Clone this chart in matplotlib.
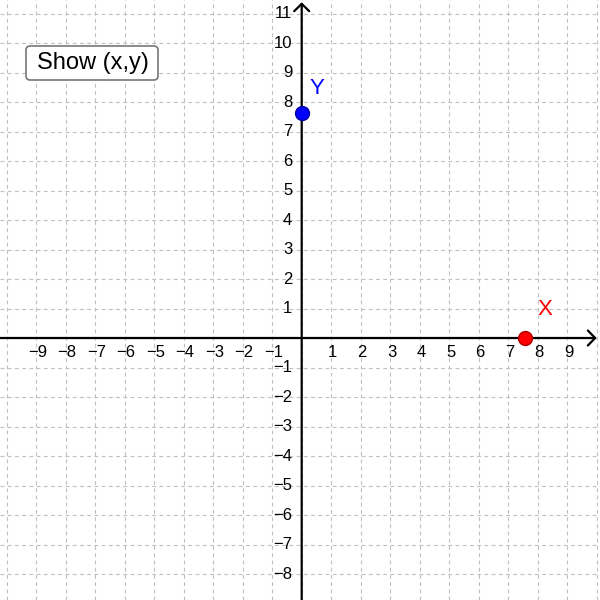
import matplotlib
matplotlib.use("Agg")
import matplotlib.pyplot as plt
from matplotlib.patches import FancyBboxPatch

plt.rcParams['font.family'] = ['Liberation Sans', 'DejaVu Sans']

# chart data
x_ticks = list(range(-9, 10))
y_ticks = list(range(-8, 12))
grid_x = list(range(-10, 11))
grid_y = list(range(-8, 12))
point_x = (7.58, 0)     # red point X on the x axis
point_y = (0, 7.64)     # blue point Y on the y axis
button_text = "Show (x,y)"

fig = plt.figure(figsize=(6, 6), dpi=100)
ax = fig.add_axes([0, 0, 1, 1])
ax.set_xlim(-10.227, 10.112)
ax.set_ylim(-8.881, 11.458)
ax.axis('off')

# dashed grid
for gx in grid_x:
    ax.axvline(gx, color='#c0c0c0', lw=0.8, ls=(0, (3.5, 3)), zorder=0)
for gy in grid_y:
    ax.axhline(gy, color='#c0c0c0', lw=0.8, ls=(0, (3.5, 3)), zorder=0)

# axes with open arrow heads
arrow = dict(arrowstyle='->,head_length=0.35,head_width=0.36',
             lw=1.6, color='black', mutation_scale=15, shrinkA=0, shrinkB=0)
ax.annotate('', xy=(10.0, 0), xytext=(-10.4, 0), arrowprops=arrow, zorder=2)
ax.annotate('', xy=(0, 11.38), xytext=(0, -9.1), arrowprops=arrow, zorder=2)

def fmt(v):
    return str(v).replace('-', '\u2212')

for t in x_ticks:
    if t == 0:
        continue
    ax.text(t + 0.05, -0.25, fmt(t), ha='center', va='top', fontsize=12, zorder=3)
for t in y_ticks:
    if t == 0:
        continue
    ax.text(-0.32, t, fmt(t), ha='right', va='center', fontsize=12, zorder=3)

# points
ax.plot(*point_x, 'o', ms=10, mfc='#ff0000', mec='#b00000', mew=1, zorder=4)
ax.plot(*point_y, 'o', ms=10, mfc='#0000ff', mec='#0000a0', mew=1, zorder=4)
ax.text(point_x[0] + 0.4, point_x[1] + 0.6, 'X', color='#ff0000',
        fontsize=16, ha='left', va='bottom', zorder=4)
ax.text(point_y[0] + 0.25, point_y[1] + 0.45, 'Y', color='#0000ff',
        fontsize=16, ha='left', va='bottom', zorder=4)

# button
btn = FancyBboxPatch((26 / 600, 1 - 80 / 600), 132 / 600, 34 / 600,
                     boxstyle='round,pad=0,rounding_size=0.007',
                     transform=fig.transFigure, facecolor='white',
                     edgecolor='#777777', lw=1.2, zorder=5)
ax.add_patch(btn)
fig.text(93 / 600, 1 - 63 / 600, button_text, ha='center', va='center',
         fontsize=17, zorder=6)

fig.savefig('out.png', dpi=100)
